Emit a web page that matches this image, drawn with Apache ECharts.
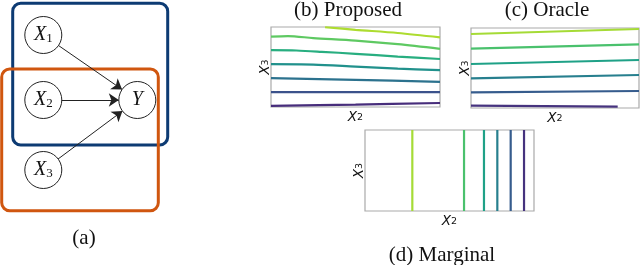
<!DOCTYPE html>
<html><head><meta charset="utf-8">
<script src="https://cdn.jsdelivr.net/npm/echarts@6/dist/echarts.min.js"></script>
<style>html,body{margin:0;padding:0;background:#fff}#c{width:640px;height:265px}</style>
</head><body><div id="c"></div>
<script>
// ---- data ----
const proposedColors = ['#addc30','#5ec962','#28ae80','#21918c','#2c728e','#3b528b','#472d7b'];
const proposedLines = [
  [[0.32,0.997],[0.5,0.965],[0.75,0.925],[1,0.87]],
  [[0,0.879],[0.1,0.886],[0.25,0.862],[0.5,0.83],[0.75,0.785],[1,0.727]],
  [[0,0.71],[0.15,0.706],[0.3,0.69],[0.5,0.665],[0.75,0.63],[1,0.6]],
  [[0,0.535],[0.25,0.53],[0.5,0.505],[0.75,0.48],[1,0.46]],
  [[0,0.36],[0.5,0.34],[1,0.315]],
  [[0,0.185],[0.5,0.186],[1,0.185]],
  [[0,0.015],[0.5,0.03],[1,0.05]]
];
const oracleColors = ['#a5db36','#4ac16d','#1fa187','#277f8e','#365c8d','#46337e'];
const oracleLines = [
  [[0,0.925],[1,0.9875]],
  [[0,0.741],[1,0.796]],
  [[0,0.55],[1,0.60]],
  [[0,0.371],[1,0.4125]],
  [[0,0.196],[1,0.2125]],
  [[0,0.029],[0.873,0.016]]
];
const marginalColors = ['#a5db36','#4ac16d','#1fa187','#277f8e','#365c8d','#46337e'];
const marginalX = [0.28,0.586,0.704,0.783,0.862,0.941];
const nodeNames = ['X1','X2','X3','Y'];
const nodeLabels = ['{i|X}{s|1}','{i|X}{s|2}','{i|X}{s|3}','{i|Y}'];
const nodePos = [[43.3,35],[43.3,100],[43.3,170],[137.3,100]];
const edges = [['X1','Y'],['X2','Y'],['X3','Y']];
const captions = ['(a)','(b) Proposed','(c) Oracle','(d) Marginal'];

// ---- chart ----
const chart = echarts.init(document.getElementById('c'), null, {renderer:'canvas'});
const grids = [
  {left:271, top:27, width:169, height:80},
  {left:471, top:28, width:168, height:80},
  {left:365, top:130, width:169, height:81},
  {left:0, top:0, width:170, height:265}
];
const axisName = (t,s)=>'{x|'+t+'}{s|'+s+'}';
const nameRich = {x:{fontFamily:'DejaVu Sans',fontStyle:'italic',fontSize:13.5,color:'#111',verticalAlign:'middle',lineHeight:12},
                  s:{fontFamily:'DejaVu Sans',fontSize:9.5,color:'#111',verticalAlign:'bottom',lineHeight:8}};
function mkX(i){return {gridIndex:i,type:'value',min:0,max:1,axisLabel:{show:false},axisTick:{show:false},splitLine:{show:false},
  axisLine:{show:false},name:axisName('X','2'),nameLocation:'middle',nameGap:4,nameTextStyle:{rich:nameRich}};}
function mkY(i){return {gridIndex:i,type:'value',min:0,max:1,axisLabel:{show:false},axisTick:{show:false},splitLine:{show:false},
  axisLine:{show:false},name:axisName('X','3'),nameLocation:'middle',nameRotate:90,nameGap:0,nameTextStyle:{rich:nameRich}};}
const xAxis=[mkX(0),mkX(1),mkX(2),{gridIndex:3,type:'value',min:0,max:170,show:false}];
const yAxis=[mkY(0),mkY(1),mkY(2),{gridIndex:3,type:'value',min:0,max:265,inverse:true,show:false}];
const series=[];
proposedLines.forEach((d,k)=>series.push({type:'line',xAxisIndex:0,yAxisIndex:0,data:d,smooth:0.3,symbol:'none',
  lineStyle:{color:proposedColors[k],width:2.2},silent:true}));
oracleLines.forEach((d,k)=>series.push({type:'line',xAxisIndex:1,yAxisIndex:1,data:d,symbol:'none',
  lineStyle:{color:oracleColors[k],width:2.2},silent:true}));
marginalX.forEach((x,k)=>series.push({type:'line',xAxisIndex:2,yAxisIndex:2,data:[[x,0],[x,1]],symbol:'none',
  lineStyle:{color:marginalColors[k],width:2.2},silent:true}));
series.push({type:'graph',coordinateSystem:'cartesian2d',xAxisIndex:3,yAxisIndex:3,z:10,
  symbol:'circle',symbolSize:37,itemStyle:{color:'#fff',borderColor:'#222',borderWidth:1},
  edgeSymbol:['none','arrow'],edgeSymbolSize:[0,10],
  lineStyle:{color:'#222',width:1,opacity:1},
  label:{show:true,position:'inside',rich:{
    i:{fontFamily:'Liberation Serif',fontStyle:'italic',fontSize:20,color:'#111',lineHeight:20,verticalAlign:'middle'},
    s:{fontFamily:'Liberation Serif',fontSize:13,color:'#111',lineHeight:8,verticalAlign:'bottom'}}},
  data:nodeNames.map((n,k)=>({name:n,value:nodePos[k],label:{formatter:nodeLabels[k]}})),
  links:edges.map(e=>({source:e[0],target:e[1]})),
  silent:true});
const capStyle={fontFamily:'Liberation Serif',fontSize:21,fill:'#111',textAlign:'center',textVerticalAlign:'middle'};
const capPos=[[84,238],[348,10],[547,10],[442,255]];
const graphic=[
  {type:'rect',shape:{x:12.7,y:3.3,width:155,height:141.7,r:8},style:{fill:'none',stroke:'#0d3b73',lineWidth:3},z:1},
  {type:'rect',shape:{x:1.7,y:69,width:156.6,height:141.7,r:8},style:{fill:'none',stroke:'#d0560f',lineWidth:3},z:2}
].concat(captions.map((t,k)=>({type:'text',x:capPos[k][0],y:capPos[k][1],style:Object.assign({text:t},capStyle)})));
chart.setOption({animation:false,backgroundColor:'#fff',
  grid:grids.map((g,i)=>Object.assign({show:i<3,borderColor:'#aaa',borderWidth:1.2,backgroundColor:'transparent'},g)),
  xAxis,yAxis,series,graphic});
</script></body></html>
